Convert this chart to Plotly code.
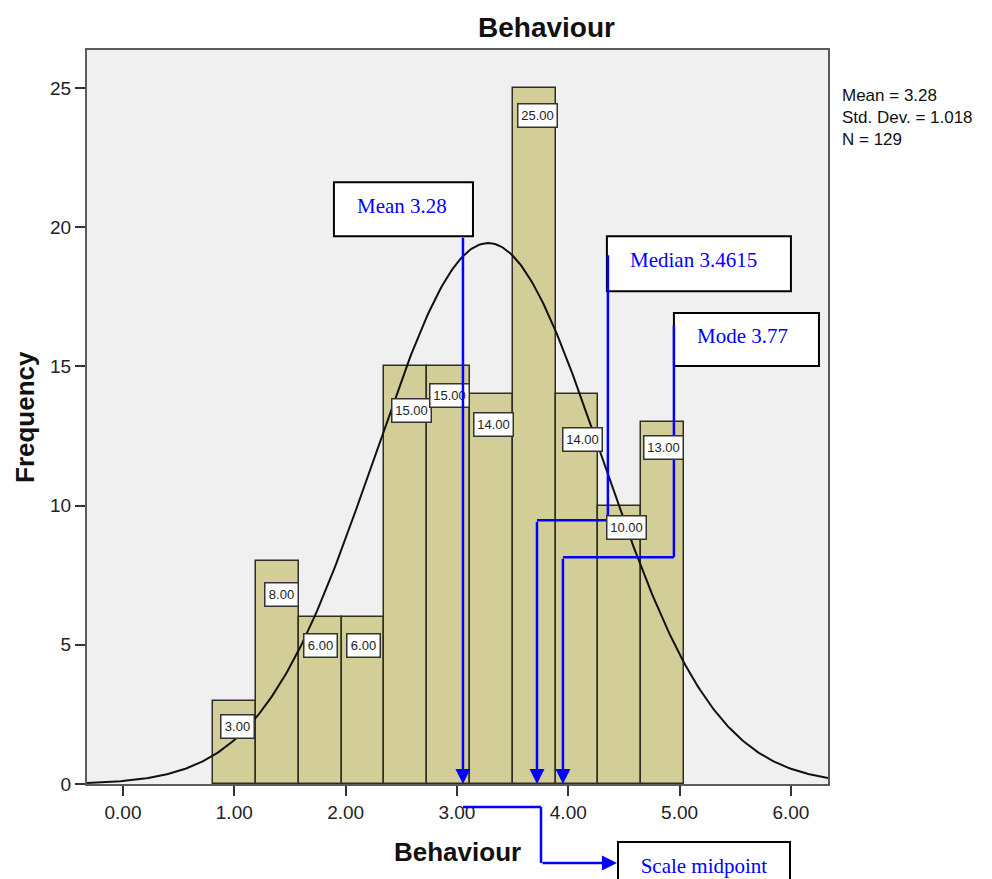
import numpy as np
import plotly.graph_objects as go

# ---------------- data ----------------
bin_start = 0.811
bin_width = 0.3844
counts = [3, 8, 6, 6, 15, 15, 14, 25, 14, 10, 13]
bar_labels = ["3.00", "8.00", "6.00", "6.00", "15.00", "15.00",
              "14.00", "25.00", "14.00", "10.00", "13.00"]
mean_val = 3.28
sd_val = 1.018
n_val = 129
x_ticks = [0, 1, 2, 3, 4, 5, 6]
x_tick_text = ["0.00", "1.00", "2.00", "3.00", "4.00", "5.00", "6.00"]
y_ticks = [0, 5, 10, 15, 20, 25]
stats_lines = ["Mean = 3.28", "Std. Dev. = 1.018", "N = 129"]
callout_texts = ["Mean 3.28", "Median 3.4615", "Mode 3.77", "Scale midpoint"]

# ---------------- layout constants ----------------
W, H = 992, 879
ML, MR, MT, MB = 87, 164, 50, 95
XR = [-0.323, 6.333]
YR = [0, 26.37]
PLOT_H = H - MT - MB
PLOT_W = W - ML - MR

def py(pix):
    """paper y from pixel row (for items outside the plot)"""
    return (H - MB - pix) / PLOT_H

def px(pix):
    return (pix - ML) / PLOT_W

# label box centres (data coords)
label_pos = [(1.033, 2.08), (1.428, 6.82), (1.770, 4.99), (2.165, 4.99),
             (2.596, 13.43), (2.937, 13.97), (3.332, 12.90), (3.728, 24.03),
             (4.132, 12.39), (4.527, 9.20), (4.859, 12.10)]

centers = [bin_start + bin_width * (i + 0.5) for i in range(len(counts))]

fig = go.Figure()
fig.add_trace(go.Bar(
    x=centers, y=counts, width=bin_width,
    marker=dict(color="#d3ce97", line=dict(color="#2e2e22", width=1.5)),
    hoverinfo="skip", showlegend=False))

xc = np.linspace(XR[0], XR[1], 400)
yc = n_val * bin_width * np.exp(-0.5 * ((xc - mean_val) / sd_val) ** 2) / (sd_val * np.sqrt(2 * np.pi))
fig.add_trace(go.Scatter(x=xc, y=yc, mode="lines",
                         line=dict(color="#111111", width=2),
                         hoverinfo="skip", showlegend=False))

annotations = []
# bar value labels
for (lx, ly), txt in zip(label_pos, bar_labels):
    annotations.append(dict(
        x=lx, y=ly, xref="x", yref="y", text=txt, showarrow=False,
        font=dict(family="Liberation Sans, Arial", size=13, color="#222222"),
        bgcolor="white", bordercolor="#333333", borderwidth=1.5, borderpad=1,
        width=36 if len(txt) == 5 else 30, height=20))

# stats text (one block)
annotations.append(dict(
    x=px(840), y=py(84), xref="paper", yref="paper",
    text="<br>".join(stats_lines), showarrow=False, xanchor="left", yanchor="top",
    align="left",
    font=dict(family="Liberation Sans, Arial", size=17, color="#111111")))

# titles
annotations.append(dict(x=px(546), y=py(27), xref="paper", yref="paper",
                        text="<b>Behaviour</b>", showarrow=False, xanchor="center", yanchor="middle",
                        font=dict(family="Liberation Sans, Arial", size=28, color="#111111")))
annotations.append(dict(x=0.5, y=py(852), xref="paper", yref="paper",
                        text="<b>Behaviour</b>", showarrow=False, xanchor="center", yanchor="middle",
                        font=dict(family="Liberation Sans, Arial", size=26, color="#111111")))
annotations.append(dict(x=px(25), y=0.5, xref="paper", yref="paper",
                        text="<b>Frequency</b>", showarrow=False, textangle=-90,
                        xanchor="center", yanchor="middle",
                        font=dict(family="Liberation Sans, Arial", size=26, color="#111111")))

# call-out texts (boxes drawn as shapes)
serif = dict(family="Liberation Serif, Times New Roman", size=21, color="#0000ff")
box_mean = (1.895, 21.62, 3.144, 19.68)
box_median = (4.347, 19.68, 6.000, 17.70)
box_mode = (4.949, 16.92, 6.252, 15.02)
for (x0, y0, x1, y1), txt in zip([box_mean, box_median, box_mode], callout_texts[:3]):
    annotations.append(dict(x=x0 + 0.19, y=(y0 + y1) / 2 + 0.12, xref="x", yref="y",
                            text=txt, showarrow=False, xanchor="left", yanchor="middle",
                            font=serif))
annotations.append(dict(x=4.437, y=py(841), xref="x", yref="paper", xanchor="left", yanchor="top",
                        text=callout_texts[3], showarrow=False, font=serif,
                        bgcolor="white", bordercolor="black", borderwidth=2, borderpad=0,
                        width=170, height=46))

# arrows
arrow_common = dict(text="", showarrow=True, arrowhead=2, arrowsize=1.2, arrowwidth=2.5,
                    arrowcolor="#0000ff", standoff=0, startstandoff=0)
for xa, ytop in [(3.054, 19.68), (3.719, 9.48), (3.952, 8.15)]:
    annotations.append(dict(x=xa, y=0, xref="x", yref="y", ax=xa, ay=ytop,
                            axref="x", ayref="y", **arrow_common))
annotations.append(dict(x=4.437, y=py(863), xref="x", yref="paper", ax=3.755, ay=0,
                        axref="x", ayref="pixel", **arrow_common))

blue = dict(color="#0000ff", width=2.5)
shapes = []
for (x0, y0, x1, y1) in [box_mean, box_median, box_mode]:
    shapes.append(dict(type="rect", xref="x", yref="y", x0=x0, x1=x1, y0=y0, y1=y1,
                       fillcolor="white", line=dict(color="black", width=2), layer="above"))
# median path
shapes.append(dict(type="line", xref="x", yref="y", x0=4.356, x1=4.356, y0=19.00, y1=9.48, line=blue))
shapes.append(dict(type="line", xref="x", yref="y", x0=4.356, x1=3.719, y0=9.48, y1=9.48, line=blue))
# mode path
shapes.append(dict(type="line", xref="x", yref="y", x0=4.949, x1=4.949, y0=16.49, y1=8.15, line=blue))
shapes.append(dict(type="line", xref="x", yref="y", x0=4.949, x1=3.952, y0=8.15, y1=8.15, line=blue))
# scale midpoint path (below axis)
shapes.append(dict(type="line", xref="x", yref="paper", x0=3.054, x1=3.755, y0=py(807), y1=py(807), line=blue))
shapes.append(dict(type="line", xref="x", yref="paper", x0=3.755, x1=3.755, y0=py(807), y1=py(863), line=blue))

fig.update_layout(
    width=W, height=H,
    margin=dict(l=ML, r=MR, t=MT, b=MB),
    paper_bgcolor="white", plot_bgcolor="#f0f0f0",
    bargap=0, showlegend=False,
    annotations=annotations, shapes=shapes,
    font=dict(family="Liberation Sans, Arial", color="#222222"),
    xaxis=dict(range=XR, tickvals=x_ticks, ticktext=x_tick_text, showgrid=False, zeroline=False,
               showline=True, mirror=True, linecolor="#5a5a5a", linewidth=2,
               ticks="outside", ticklen=10, tickwidth=2, tickcolor="#333333",
               tickfont=dict(size=19, color="#222222")),
    yaxis=dict(range=YR, tickvals=y_ticks, showgrid=False, zeroline=False,
               showline=True, mirror=True, linecolor="#5a5a5a", linewidth=2,
               ticks="outside", ticklen=10, tickwidth=2, tickcolor="#333333",
               tickfont=dict(size=19, color="#222222")),
)

fig.write_html("out.html")
